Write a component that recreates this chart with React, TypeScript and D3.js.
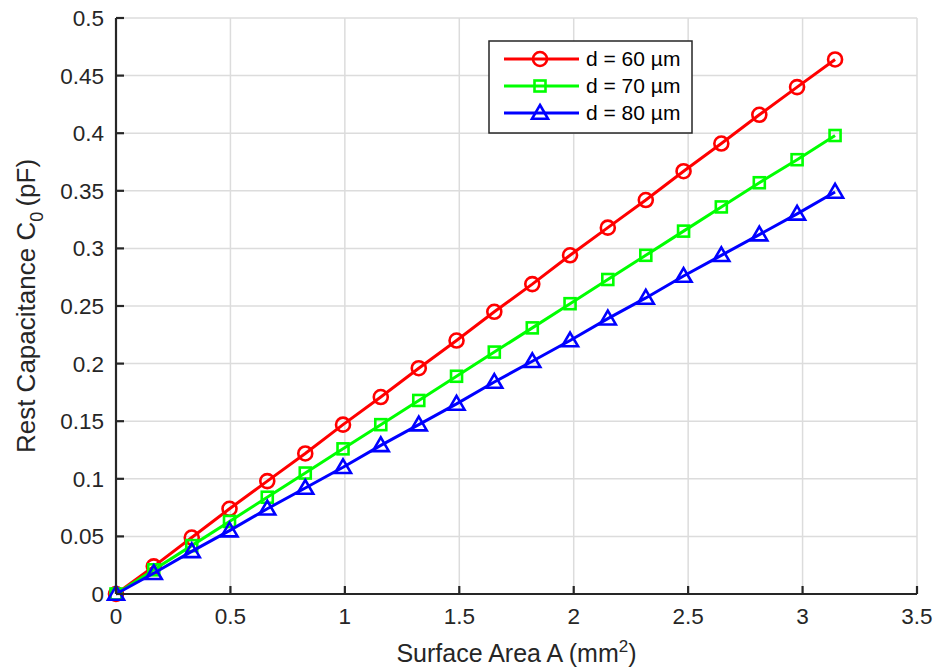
import React from "react";
import * as d3 from "d3";

const areas = [0, 0.165, 0.331, 0.496, 0.661, 0.827, 0.992, 1.157, 1.323, 1.488, 1.653, 1.819, 1.984, 2.149, 2.315, 2.48, 2.645, 2.811, 2.976, 3.142];
const cap60 = [0, 0.024, 0.049, 0.074, 0.098, 0.122, 0.147, 0.171, 0.196, 0.22, 0.245, 0.269, 0.294, 0.318, 0.342, 0.367, 0.391, 0.416, 0.44, 0.464];
const cap70 = [0, 0.021, 0.042, 0.063, 0.084, 0.105, 0.126, 0.147, 0.168, 0.189, 0.21, 0.231, 0.252, 0.273, 0.294, 0.315, 0.336, 0.357, 0.377, 0.398];
const cap80 = [0, 0.018, 0.037, 0.055, 0.074, 0.092, 0.11, 0.129, 0.147, 0.165, 0.184, 0.202, 0.22, 0.239, 0.257, 0.276, 0.294, 0.312, 0.33, 0.349];
const xTicks = [0, 0.5, 1, 1.5, 2, 2.5, 3, 3.5];
const yTicks = [0, 0.05, 0.1, 0.15, 0.2, 0.25, 0.3, 0.35, 0.4, 0.45, 0.5];
const seriesNames = ["d = 60 µm", "d = 70 µm", "d = 80 µm"];
const seriesColors = ["#ff0000", "#00ff00", "#0000ff"];
const seriesMarkers = ["circle", "square", "triangle"];

const L = 116, R = 917, T = 18, B = 594;
const FONT = "Liberation Sans, Arial, sans-serif";

function Marker({ type, x, y, color }: { type: string; x: number; y: number; color: string }) {
  if (type === "circle") return <circle cx={x} cy={y} r={7} fill="none" stroke={color} strokeWidth={2.6} />;
  if (type === "square") return <rect x={x - 5.5} y={y - 5.5} width={11} height={11} fill="none" stroke={color} strokeWidth={2.6} />;
  const s = 8;
  return <path d={`M${x},${y - s}L${x + s},${y + s * 0.72}L${x - s},${y + s * 0.72}Z`} fill="none" stroke={color} strokeWidth={2.6} />;
}

export default function App() {
  const x = d3.scaleLinear().domain([0, 3.5]).range([L, R]);
  const y = d3.scaleLinear().domain([0, 0.5]).range([B, T]);
  const series = [cap60, cap70, cap80];
  const line = d3.line<[number, number]>().x(d => x(d[0])).y(d => y(d[1]));
  const fmt = (v: number) => String(+v.toFixed(2));

  return (
    <svg width={935} height={670} style={{ position: "absolute", left: 0, top: 0, background: "#fff" }} fontFamily={FONT}>
      <rect x={0} y={0} width={935} height={670} fill="#fff" />
      {xTicks.map(t => (
        <line key={"gx" + t} x1={x(t)} x2={x(t)} y1={T} y2={B} stroke="#dcdcdc" strokeWidth={1.5} />
      ))}
      {yTicks.map(t => (
        <line key={"gy" + t} x1={L} x2={R} y1={y(t)} y2={y(t)} stroke="#dcdcdc" strokeWidth={1.5} />
      ))}
      {series.map((vals, i) => {
        const pts = areas.map((a, j) => [a, vals[j]] as [number, number]);
        return (
          <g key={i}>
            <path d={line(pts) || ""} fill="none" stroke={seriesColors[i]} strokeWidth={3} />
            {pts.map((p, j) => (
              <Marker key={j} type={seriesMarkers[i]} x={x(p[0])} y={y(p[1])} color={seriesColors[i]} />
            ))}
          </g>
        );
      })}
      <line x1={L} x2={R} y1={B} y2={B} stroke="#262626" strokeWidth={2.2} />
      <line x1={L} x2={L} y1={T} y2={B} stroke="#262626" strokeWidth={2.2} />
      {xTicks.map(t => (
        <g key={"tx" + t}>
          <line x1={x(t)} x2={x(t)} y1={B} y2={B - 8} stroke="#262626" strokeWidth={2.2} />
          <text x={x(t)} y={B + 30} textAnchor="middle" fontSize={22.5} fill="#262626">{fmt(t)}</text>
        </g>
      ))}
      {yTicks.map(t => (
        <g key={"ty" + t}>
          <line x1={L} x2={L + 8} y1={y(t)} y2={y(t)} stroke="#262626" strokeWidth={2.2} />
          <text x={L - 12} y={y(t) + 8} textAnchor="end" fontSize={22.5} fill="#262626">{fmt(t)}</text>
        </g>
      ))}
      <text x={(L + R) / 2} y={662} textAnchor="middle" fontSize={25} fill="#262626">
        Surface Area A (mm<tspan dy={-10} fontSize={17}>2</tspan><tspan dy={10}>)</tspan>
      </text>
      <text transform={`translate(35,${(T + B) / 2}) rotate(-90)`} textAnchor="middle" fontSize={26} fill="#262626">
        Rest Capacitance C<tspan dy={8} fontSize={18}>0</tspan><tspan dy={-8}>{"\u2009"}(pF)</tspan>
      </text>
      <rect x={489} y={41} width={203} height={92} fill="#fff" stroke="#262626" strokeWidth={1.5} />
      {seriesNames.map((n, i) => {
        const ly = 59 + i * 27;
        return (
          <g key={n}>
            <line x1={504} x2={579} y1={ly} y2={ly} stroke={seriesColors[i]} strokeWidth={3} />
            <Marker type={seriesMarkers[i]} x={540} y={ly} color={seriesColors[i]} />
            <text x={586} y={ly + 7} fontSize={21} fill="#000">{n}</text>
          </g>
        );
      })}
    </svg>
  );
}
